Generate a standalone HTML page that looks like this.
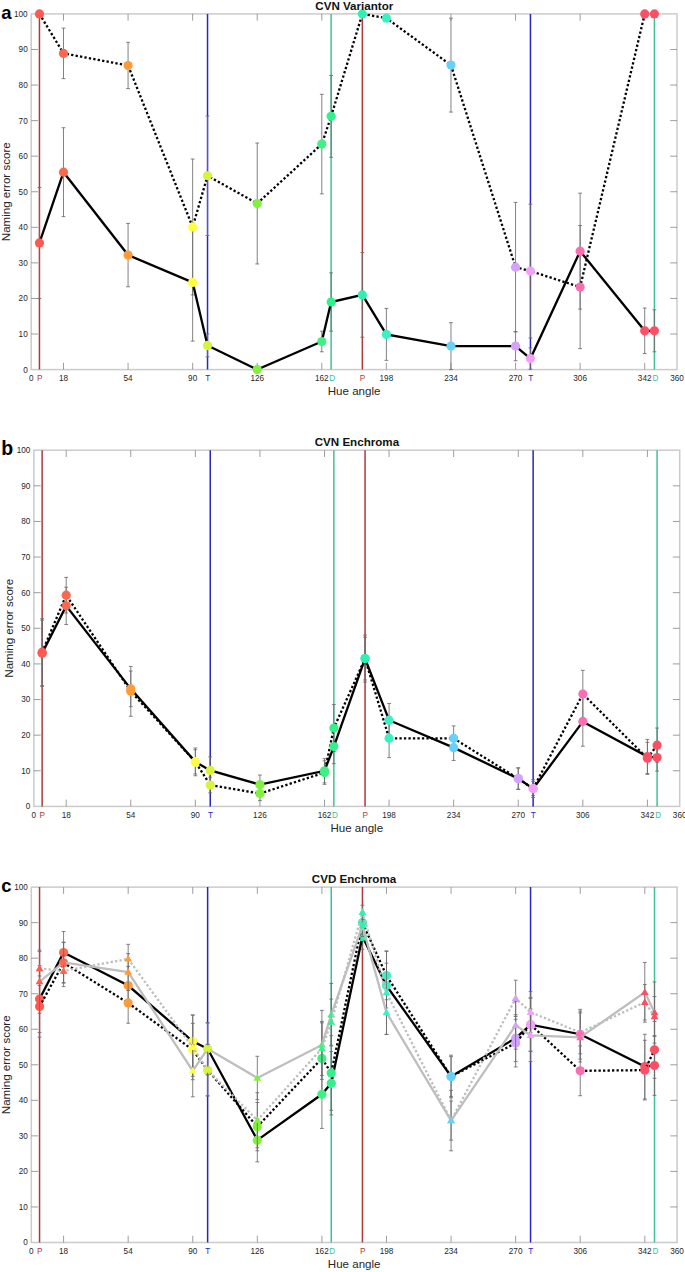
<!DOCTYPE html>
<html><head><meta charset="utf-8"><title>chart</title>
<style>html,body{margin:0;padding:0;background:#fff}body{width:685px;height:1272px;position:relative;overflow:hidden;font-family:"Liberation Sans",sans-serif}</style></head>
<body>
<svg width="685" height="1272" viewBox="0 0 685 1272" style="position:absolute;left:0;top:0;font-family:'Liberation Sans',sans-serif">
<g>
<rect x="31.2" y="13.9" width="645.8" height="355.7" fill="none" stroke="#cbcbcb" stroke-width="1.5"/>
<path d="M63.49 369.6v-6.8M63.49 13.9v6.8M128.07 369.6v-6.8M128.07 13.9v6.8M192.65 369.6v-6.8M192.65 13.9v6.8M257.23 369.6v-6.8M257.23 13.9v6.8M321.81 369.6v-6.8M321.81 13.9v6.8M386.39 369.6v-6.8M386.39 13.9v6.8M450.97 369.6v-6.8M450.97 13.9v6.8M515.55 369.6v-6.8M515.55 13.9v6.8M580.13 369.6v-6.8M580.13 13.9v6.8M644.71 369.6v-6.8M644.71 13.9v6.8M31.2 334.03h6.8M677 334.03h-6.8M31.2 298.46h6.8M677 298.46h-6.8M31.2 262.89h6.8M677 262.89h-6.8M31.2 227.32h6.8M677 227.32h-6.8M31.2 191.75h6.8M677 191.75h-6.8M31.2 156.18h6.8M677 156.18h-6.8M31.2 120.61h6.8M677 120.61h-6.8M31.2 85.04h6.8M677 85.04h-6.8M31.2 49.47h6.8M677 49.47h-6.8" stroke="#858585" stroke-width="0.8" fill="none"/>
<text x="31.2" y="380.8" font-size="8.2" text-anchor="middle" fill="#1f1f1f">0</text>
<text x="63.49" y="380.8" font-size="8.2" text-anchor="middle" fill="#1f1f1f">18</text>
<text x="128.07" y="380.8" font-size="8.2" text-anchor="middle" fill="#1f1f1f">54</text>
<text x="192.65" y="380.8" font-size="8.2" text-anchor="middle" fill="#1f1f1f">90</text>
<text x="257.23" y="380.8" font-size="8.2" text-anchor="middle" fill="#1f1f1f">126</text>
<text x="321.81" y="380.8" font-size="8.2" text-anchor="middle" fill="#1f1f1f">162</text>
<text x="386.39" y="380.8" font-size="8.2" text-anchor="middle" fill="#1f1f1f">198</text>
<text x="450.97" y="380.8" font-size="8.2" text-anchor="middle" fill="#1f1f1f">234</text>
<text x="515.55" y="380.8" font-size="8.2" text-anchor="middle" fill="#1f1f1f">270</text>
<text x="580.13" y="380.8" font-size="8.2" text-anchor="middle" fill="#1f1f1f">306</text>
<text x="644.71" y="380.8" font-size="8.2" text-anchor="middle" fill="#1f1f1f">342</text>
<text x="677" y="380.8" font-size="8.2" text-anchor="middle" fill="#1f1f1f">360</text>
<text x="27.7" y="372.5" font-size="8.2" text-anchor="end" fill="#1f1f1f">0</text>
<text x="27.7" y="336.93" font-size="8.2" text-anchor="end" fill="#1f1f1f">10</text>
<text x="27.7" y="301.36" font-size="8.2" text-anchor="end" fill="#1f1f1f">20</text>
<text x="27.7" y="265.79" font-size="8.2" text-anchor="end" fill="#1f1f1f">30</text>
<text x="27.7" y="230.22" font-size="8.2" text-anchor="end" fill="#1f1f1f">40</text>
<text x="27.7" y="194.65" font-size="8.2" text-anchor="end" fill="#1f1f1f">50</text>
<text x="27.7" y="159.08" font-size="8.2" text-anchor="end" fill="#1f1f1f">60</text>
<text x="27.7" y="123.51" font-size="8.2" text-anchor="end" fill="#1f1f1f">70</text>
<text x="27.7" y="87.94" font-size="8.2" text-anchor="end" fill="#1f1f1f">80</text>
<text x="27.7" y="52.37" font-size="8.2" text-anchor="end" fill="#1f1f1f">90</text>
<text x="27.7" y="16.8" font-size="8.2" text-anchor="end" fill="#1f1f1f">100</text>
<line x1="39.45" y1="13.9" x2="39.45" y2="369.6" stroke="#ad3a3a" stroke-width="1.5"/>
<text x="39.65" y="380.8" font-size="8.2" text-anchor="middle" fill="#ad3a3a">P</text>
<line x1="207.54" y1="13.9" x2="207.54" y2="369.6" stroke="#2626c4" stroke-width="1.5"/>
<text x="207.74" y="380.8" font-size="8.2" text-anchor="middle" fill="#2626c4">T</text>
<line x1="331.14" y1="13.9" x2="331.14" y2="369.6" stroke="#3cc493" stroke-width="1.5"/>
<text x="332.14" y="380.8" font-size="8.2" text-anchor="middle" fill="#3cc493">D</text>
<line x1="362.35" y1="13.9" x2="362.35" y2="369.6" stroke="#ad3a3a" stroke-width="1.5"/>
<text x="362.55" y="380.8" font-size="8.2" text-anchor="middle" fill="#ad3a3a">P</text>
<line x1="530.44" y1="13.9" x2="530.44" y2="369.6" stroke="#2626c4" stroke-width="1.5"/>
<text x="530.64" y="380.8" font-size="8.2" text-anchor="middle" fill="#2626c4">T</text>
<line x1="654.4" y1="13.9" x2="654.4" y2="369.6" stroke="#3cc493" stroke-width="1.5"/>
<text x="655.4" y="380.8" font-size="8.2" text-anchor="middle" fill="#3cc493">D</text>
<path d="M63.49 28.13V78.64M61.59 28.13h3.8M61.59 78.64h3.8M128.07 42.36V88.6M126.17 42.36h3.8M126.17 88.6h3.8M192.65 159.03V294.9M190.75 159.03h3.8M190.75 294.9h3.8M207.54 115.99V235.5M205.64 115.99h3.8M205.64 235.5h3.8M257.23 143.02V263.96M255.33 143.02h3.8M255.33 263.96h3.8M321.81 94.29V193.88M319.91 94.29h3.8M319.91 193.88h3.8M331.14 75.44V157.25M329.24 75.44h3.8M329.24 157.25h3.8M450.97 18.17V112.07M449.07 18.17h3.8M449.07 112.07h3.8M515.55 202.42V331.9M513.65 202.42h3.8M513.65 331.9h3.8M530.44 204.2V337.94M528.54 204.2h3.8M528.54 337.94h3.8M580.13 225.54V348.61M578.23 225.54h3.8M578.23 348.61h3.8M39.45 187.48V298.46M37.55 187.48h3.8M37.55 298.46h3.8M63.49 127.72V216.65M61.59 127.72h3.8M61.59 216.65h3.8M128.07 223.41V286.72M126.17 223.41h3.8M126.17 286.72h3.8M192.65 223.76V341.14M190.75 223.76h3.8M190.75 341.14h3.8M207.54 334.03V356.79M205.64 334.03h3.8M205.64 356.79h3.8M257.23 366.04V369.6M255.33 366.04h3.8M321.81 331.18V351.81M319.91 331.18h3.8M319.91 351.81h3.8M331.14 272.85V331.18M329.24 272.85h3.8M329.24 331.18h3.8M362.35 252.57V337.23M360.45 252.57h3.8M360.45 337.23h3.8M386.39 308.42V360.35M384.49 308.42h3.8M384.49 360.35h3.8M450.97 322.65V369.6M449.07 322.65h3.8M449.07 369.6h3.8M515.55 331.54V360.71M513.65 331.54h3.8M513.65 360.71h3.8M530.44 347.9V369.24M528.54 347.9h3.8M528.54 369.24h3.8M580.13 193.17V309.13M578.23 193.17h3.8M578.23 309.13h3.8M644.71 308.06V353.59M642.81 308.06h3.8M642.81 353.59h3.8M654.4 309.84V351.81M652.5 309.84h3.8M652.5 351.81h3.8" stroke="#6c6c6c" stroke-width="0.85" fill="none"/>
<polyline points="39.45,13.9 63.49,53.38 128.07,65.48 192.65,226.96 207.54,175.74 257.23,203.49 321.81,144.09 331.14,116.34 362.35,13.9 386.39,18.17 450.97,65.12 515.55,267.16 530.44,271.07 580.13,287.08 644.71,13.9 654.4,13.9" fill="none" stroke="#000" stroke-width="2.3" stroke-linejoin="miter" stroke-dasharray="2.3 2.2"/>
<polyline points="39.45,242.97 63.49,172.19 128.07,255.06 192.65,282.45 207.54,345.41 257.23,369.6 321.81,341.5 331.14,302.02 362.35,294.9 386.39,334.39 450.97,346.12 515.55,346.12 530.44,358.57 580.13,251.15 644.71,330.83 654.4,330.83" fill="none" stroke="#000" stroke-width="2.3" stroke-linejoin="miter"/>
<circle cx="39.45" cy="13.9" r="4.6" fill="#ff5a52"/>
<circle cx="63.49" cy="53.38" r="4.6" fill="#f9684f"/>
<circle cx="128.07" cy="65.48" r="4.6" fill="#ff9a38"/>
<circle cx="192.65" cy="226.96" r="4.6" fill="#ffff42"/>
<circle cx="207.54" cy="175.74" r="4.6" fill="#d8f23e"/>
<circle cx="257.23" cy="203.49" r="4.6" fill="#82f040"/>
<circle cx="321.81" cy="144.09" r="4.6" fill="#3ff083"/>
<circle cx="331.14" cy="116.34" r="4.6" fill="#33ef8c"/>
<circle cx="362.35" cy="13.9" r="4.6" fill="#2ff0b2"/>
<circle cx="386.39" cy="18.17" r="4.6" fill="#3cf0c4"/>
<circle cx="450.97" cy="65.12" r="4.6" fill="#66d2fb"/>
<circle cx="515.55" cy="267.16" r="4.6" fill="#d3a2fb"/>
<circle cx="530.44" cy="271.07" r="4.6" fill="#f4a0fb"/>
<circle cx="580.13" cy="287.08" r="4.6" fill="#fb6fb2"/>
<circle cx="644.71" cy="13.9" r="4.6" fill="#fb5068"/>
<circle cx="654.4" cy="13.9" r="4.6" fill="#fb5064"/>
<circle cx="39.45" cy="242.97" r="4.6" fill="#ff5a52"/>
<circle cx="63.49" cy="172.19" r="4.6" fill="#f9684f"/>
<circle cx="128.07" cy="255.06" r="4.6" fill="#ff9a38"/>
<circle cx="192.65" cy="282.45" r="4.6" fill="#ffff42"/>
<circle cx="207.54" cy="345.41" r="4.6" fill="#d8f23e"/>
<circle cx="257.23" cy="369.6" r="4.6" fill="#82f040"/>
<circle cx="321.81" cy="341.5" r="4.6" fill="#3ff083"/>
<circle cx="331.14" cy="302.02" r="4.6" fill="#33ef8c"/>
<circle cx="362.35" cy="294.9" r="4.6" fill="#2ff0b2"/>
<circle cx="386.39" cy="334.39" r="4.6" fill="#3cf0c4"/>
<circle cx="450.97" cy="346.12" r="4.6" fill="#66d2fb"/>
<circle cx="515.55" cy="346.12" r="4.6" fill="#d3a2fb"/>
<circle cx="530.44" cy="358.57" r="4.6" fill="#f4a0fb"/>
<circle cx="580.13" cy="251.15" r="4.6" fill="#fb6fb2"/>
<circle cx="644.71" cy="330.83" r="4.6" fill="#fb5068"/>
<circle cx="654.4" cy="330.83" r="4.6" fill="#fb5064"/>
<text x="354.3" y="9.6" font-size="11.6" font-weight="bold" text-anchor="middle" fill="#111">CVN Variantor</text>
<text x="354.1" y="395" font-size="11.55" text-anchor="middle" fill="#262626">Hue angle</text>
<text transform="translate(10.2 191.75) rotate(-90)" font-size="11.55" text-anchor="middle" fill="#262626">Naming error score</text>
<text x="1.3" y="18.8" font-size="18.5" font-weight="bold" fill="#000">a</text>
</g>
<g>
<rect x="33.9" y="450.2" width="645.8" height="356.2" fill="none" stroke="#cbcbcb" stroke-width="1.5"/>
<path d="M66.19 806.4v-6.8M66.19 450.2v6.8M130.77 806.4v-6.8M130.77 450.2v6.8M195.35 806.4v-6.8M195.35 450.2v6.8M259.93 806.4v-6.8M259.93 450.2v6.8M324.51 806.4v-6.8M324.51 450.2v6.8M389.09 806.4v-6.8M389.09 450.2v6.8M453.67 806.4v-6.8M453.67 450.2v6.8M518.25 806.4v-6.8M518.25 450.2v6.8M582.83 806.4v-6.8M582.83 450.2v6.8M647.41 806.4v-6.8M647.41 450.2v6.8M33.9 770.78h6.8M679.7 770.78h-6.8M33.9 735.16h6.8M679.7 735.16h-6.8M33.9 699.54h6.8M679.7 699.54h-6.8M33.9 663.92h6.8M679.7 663.92h-6.8M33.9 628.3h6.8M679.7 628.3h-6.8M33.9 592.68h6.8M679.7 592.68h-6.8M33.9 557.06h6.8M679.7 557.06h-6.8M33.9 521.44h6.8M679.7 521.44h-6.8M33.9 485.82h6.8M679.7 485.82h-6.8" stroke="#858585" stroke-width="0.8" fill="none"/>
<text x="33.9" y="817.6" font-size="8.2" text-anchor="middle" fill="#1f1f1f">0</text>
<text x="66.19" y="817.6" font-size="8.2" text-anchor="middle" fill="#1f1f1f">18</text>
<text x="130.77" y="817.6" font-size="8.2" text-anchor="middle" fill="#1f1f1f">54</text>
<text x="195.35" y="817.6" font-size="8.2" text-anchor="middle" fill="#1f1f1f">90</text>
<text x="259.93" y="817.6" font-size="8.2" text-anchor="middle" fill="#1f1f1f">126</text>
<text x="324.51" y="817.6" font-size="8.2" text-anchor="middle" fill="#1f1f1f">162</text>
<text x="389.09" y="817.6" font-size="8.2" text-anchor="middle" fill="#1f1f1f">198</text>
<text x="453.67" y="817.6" font-size="8.2" text-anchor="middle" fill="#1f1f1f">234</text>
<text x="518.25" y="817.6" font-size="8.2" text-anchor="middle" fill="#1f1f1f">270</text>
<text x="582.83" y="817.6" font-size="8.2" text-anchor="middle" fill="#1f1f1f">306</text>
<text x="647.41" y="817.6" font-size="8.2" text-anchor="middle" fill="#1f1f1f">342</text>
<text x="679.7" y="817.6" font-size="8.2" text-anchor="middle" fill="#1f1f1f">360</text>
<text x="30.4" y="809.3" font-size="8.2" text-anchor="end" fill="#1f1f1f">0</text>
<text x="30.4" y="773.68" font-size="8.2" text-anchor="end" fill="#1f1f1f">10</text>
<text x="30.4" y="738.06" font-size="8.2" text-anchor="end" fill="#1f1f1f">20</text>
<text x="30.4" y="702.44" font-size="8.2" text-anchor="end" fill="#1f1f1f">30</text>
<text x="30.4" y="666.82" font-size="8.2" text-anchor="end" fill="#1f1f1f">40</text>
<text x="30.4" y="631.2" font-size="8.2" text-anchor="end" fill="#1f1f1f">50</text>
<text x="30.4" y="595.58" font-size="8.2" text-anchor="end" fill="#1f1f1f">60</text>
<text x="30.4" y="559.96" font-size="8.2" text-anchor="end" fill="#1f1f1f">70</text>
<text x="30.4" y="524.34" font-size="8.2" text-anchor="end" fill="#1f1f1f">80</text>
<text x="30.4" y="488.72" font-size="8.2" text-anchor="end" fill="#1f1f1f">90</text>
<text x="30.4" y="453.1" font-size="8.2" text-anchor="end" fill="#1f1f1f">100</text>
<line x1="42.15" y1="450.2" x2="42.15" y2="806.4" stroke="#ad3a3a" stroke-width="1.5"/>
<text x="42.35" y="817.6" font-size="8.2" text-anchor="middle" fill="#ad3a3a">P</text>
<line x1="210.24" y1="450.2" x2="210.24" y2="806.4" stroke="#2626c4" stroke-width="1.5"/>
<text x="210.44" y="817.6" font-size="8.2" text-anchor="middle" fill="#2626c4">T</text>
<line x1="333.84" y1="450.2" x2="333.84" y2="806.4" stroke="#3cc493" stroke-width="1.5"/>
<text x="334.84" y="817.6" font-size="8.2" text-anchor="middle" fill="#3cc493">D</text>
<line x1="365.05" y1="450.2" x2="365.05" y2="806.4" stroke="#ad3a3a" stroke-width="1.5"/>
<text x="365.25" y="817.6" font-size="8.2" text-anchor="middle" fill="#ad3a3a">P</text>
<line x1="533.14" y1="450.2" x2="533.14" y2="806.4" stroke="#2626c4" stroke-width="1.5"/>
<text x="533.34" y="817.6" font-size="8.2" text-anchor="middle" fill="#2626c4">T</text>
<line x1="657.1" y1="450.2" x2="657.1" y2="806.4" stroke="#3cc493" stroke-width="1.5"/>
<text x="658.1" y="817.6" font-size="8.2" text-anchor="middle" fill="#3cc493">D</text>
<path d="M42.15 618.68V685.65M40.25 618.68h3.8M40.25 685.65h3.8M66.19 577.36V612.98M64.29 577.36h3.8M64.29 612.98h3.8M130.77 666.41V716.28M128.87 666.41h3.8M128.87 716.28h3.8M195.35 747.98V775.77M193.45 747.98h3.8M193.45 775.77h3.8M210.24 777.19V792.86M208.34 777.19h3.8M208.34 792.86h3.8M259.93 786.45V800.7M258.03 786.45h3.8M258.03 800.7h3.8M324.51 760.81V784.32M322.61 760.81h3.8M322.61 784.32h3.8M333.84 704.53V751.55M331.94 704.53h3.8M331.94 751.55h3.8M365.05 637.2V679.95M363.15 637.2h3.8M363.15 679.95h3.8M389.09 719.13V757.6M387.19 719.13h3.8M387.19 757.6h3.8M453.67 725.9V750.83M451.77 725.9h3.8M451.77 750.83h3.8M518.25 767.93V789.3M516.35 767.93h3.8M516.35 789.3h3.8M533.14 781.47V795.71M531.24 781.47h3.8M531.24 795.71h3.8M582.83 670.33V717.71M580.93 670.33h3.8M580.93 717.71h3.8M647.41 742.28V774.34M645.51 742.28h3.8M645.51 774.34h3.8M657.1 728.04V762.23M655.2 728.04h3.8M655.2 762.23h3.8M42.15 620.11V686.36M40.25 620.11h3.8M40.25 686.36h3.8M66.19 587.16V624.56M64.29 587.16h3.8M64.29 624.56h3.8M130.77 671.04V706.66M128.87 671.04h3.8M128.87 706.66h3.8M195.35 749.76V773.99M193.45 749.76h3.8M193.45 773.99h3.8M210.24 756.89V783.96M208.34 756.89h3.8M208.34 783.96h3.8M259.93 775.05V794.29M258.03 775.05h3.8M258.03 794.29h3.8M324.51 758.67V782.89M322.61 758.67h3.8M322.61 782.89h3.8M333.84 729.46V763.66M331.94 729.46h3.8M331.94 763.66h3.8M365.05 635.07V682.09M363.15 635.07h3.8M363.15 682.09h3.8M389.09 703.46V736.94M387.19 703.46h3.8M387.19 736.94h3.8M453.67 734.8V760.45M451.77 734.8h3.8M451.77 760.45h3.8M518.25 767.93V789.3M516.35 767.93h3.8M516.35 789.3h3.8M533.14 779.68V797.5M531.24 779.68h3.8M531.24 797.5h3.8M582.83 697.05V746.2M580.93 697.05h3.8M580.93 746.2h3.8M647.41 739.43V773.63M645.51 739.43h3.8M645.51 773.63h3.8M657.1 744.06V771.14M655.2 744.06h3.8M655.2 771.14h3.8" stroke="#6c6c6c" stroke-width="0.85" fill="none"/>
<polyline points="42.15,652.17 66.19,595.17 130.77,691.35 195.35,761.88 210.24,785.03 259.93,793.58 324.51,772.56 333.84,728.04 365.05,658.58 389.09,738.37 453.67,738.37 518.25,778.62 533.14,788.59 582.83,694.02 647.41,758.31 657.1,745.13" fill="none" stroke="#000" stroke-width="2.3" stroke-linejoin="miter" stroke-dasharray="2.3 2.2"/>
<polyline points="42.15,653.23 66.19,605.86 130.77,688.85 195.35,761.88 210.24,770.42 259.93,784.67 324.51,770.78 333.84,746.56 365.05,658.58 389.09,720.2 453.67,747.63 518.25,778.62 533.14,788.59 582.83,721.62 647.41,756.53 657.1,757.6" fill="none" stroke="#000" stroke-width="2.3" stroke-linejoin="miter"/>
<circle cx="42.15" cy="652.17" r="4.6" fill="#ff5a52"/>
<circle cx="66.19" cy="595.17" r="4.6" fill="#f9684f"/>
<circle cx="130.77" cy="691.35" r="4.6" fill="#ff9a38"/>
<circle cx="195.35" cy="761.88" r="4.6" fill="#ffff42"/>
<circle cx="210.24" cy="785.03" r="4.6" fill="#d8f23e"/>
<circle cx="259.93" cy="793.58" r="4.6" fill="#82f040"/>
<circle cx="324.51" cy="772.56" r="4.6" fill="#3ff083"/>
<circle cx="333.84" cy="728.04" r="4.6" fill="#33ef8c"/>
<circle cx="365.05" cy="658.58" r="4.6" fill="#2ff0b2"/>
<circle cx="389.09" cy="738.37" r="4.6" fill="#3cf0c4"/>
<circle cx="453.67" cy="738.37" r="4.6" fill="#66d2fb"/>
<circle cx="518.25" cy="778.62" r="4.6" fill="#d3a2fb"/>
<circle cx="533.14" cy="788.59" r="4.6" fill="#f4a0fb"/>
<circle cx="582.83" cy="694.02" r="4.6" fill="#fb6fb2"/>
<circle cx="647.41" cy="758.31" r="4.6" fill="#fb5068"/>
<circle cx="657.1" cy="745.13" r="4.6" fill="#fb5064"/>
<circle cx="42.15" cy="653.23" r="4.6" fill="#ff5a52"/>
<circle cx="66.19" cy="605.86" r="4.6" fill="#f9684f"/>
<circle cx="130.77" cy="688.85" r="4.6" fill="#ff9a38"/>
<circle cx="195.35" cy="761.88" r="4.6" fill="#ffff42"/>
<circle cx="210.24" cy="770.42" r="4.6" fill="#d8f23e"/>
<circle cx="259.93" cy="784.67" r="4.6" fill="#82f040"/>
<circle cx="324.51" cy="770.78" r="4.6" fill="#3ff083"/>
<circle cx="333.84" cy="746.56" r="4.6" fill="#33ef8c"/>
<circle cx="365.05" cy="658.58" r="4.6" fill="#2ff0b2"/>
<circle cx="389.09" cy="720.2" r="4.6" fill="#3cf0c4"/>
<circle cx="453.67" cy="747.63" r="4.6" fill="#66d2fb"/>
<circle cx="518.25" cy="778.62" r="4.6" fill="#d3a2fb"/>
<circle cx="533.14" cy="788.59" r="4.6" fill="#f4a0fb"/>
<circle cx="582.83" cy="721.62" r="4.6" fill="#fb6fb2"/>
<circle cx="647.41" cy="756.53" r="4.6" fill="#fb5068"/>
<circle cx="657.1" cy="757.6" r="4.6" fill="#fb5064"/>
<text x="356.9" y="445.9" font-size="11.6" font-weight="bold" text-anchor="middle" fill="#111">CVN Enchroma</text>
<text x="356.8" y="831.8" font-size="11.55" text-anchor="middle" fill="#262626">Hue angle</text>
<text transform="translate(12.9 628.3) rotate(-90)" font-size="11.55" text-anchor="middle" fill="#262626">Naming error score</text>
<text x="1.3" y="455.1" font-size="19.5" font-weight="bold" fill="#000">b</text>
</g>
<g>
<rect x="31.3" y="887.1" width="645.8" height="355.4" fill="none" stroke="#cbcbcb" stroke-width="1.5"/>
<path d="M63.59 1242.5v-6.8M63.59 887.1v6.8M128.17 1242.5v-6.8M128.17 887.1v6.8M192.75 1242.5v-6.8M192.75 887.1v6.8M257.33 1242.5v-6.8M257.33 887.1v6.8M321.91 1242.5v-6.8M321.91 887.1v6.8M386.49 1242.5v-6.8M386.49 887.1v6.8M451.07 1242.5v-6.8M451.07 887.1v6.8M515.65 1242.5v-6.8M515.65 887.1v6.8M580.23 1242.5v-6.8M580.23 887.1v6.8M644.81 1242.5v-6.8M644.81 887.1v6.8M31.3 1206.96h6.8M677.1 1206.96h-6.8M31.3 1171.42h6.8M677.1 1171.42h-6.8M31.3 1135.88h6.8M677.1 1135.88h-6.8M31.3 1100.34h6.8M677.1 1100.34h-6.8M31.3 1064.8h6.8M677.1 1064.8h-6.8M31.3 1029.26h6.8M677.1 1029.26h-6.8M31.3 993.72h6.8M677.1 993.72h-6.8M31.3 958.18h6.8M677.1 958.18h-6.8M31.3 922.64h6.8M677.1 922.64h-6.8" stroke="#858585" stroke-width="0.8" fill="none"/>
<text x="31.3" y="1253.7" font-size="8.2" text-anchor="middle" fill="#1f1f1f">0</text>
<text x="63.59" y="1253.7" font-size="8.2" text-anchor="middle" fill="#1f1f1f">18</text>
<text x="128.17" y="1253.7" font-size="8.2" text-anchor="middle" fill="#1f1f1f">54</text>
<text x="192.75" y="1253.7" font-size="8.2" text-anchor="middle" fill="#1f1f1f">90</text>
<text x="257.33" y="1253.7" font-size="8.2" text-anchor="middle" fill="#1f1f1f">126</text>
<text x="321.91" y="1253.7" font-size="8.2" text-anchor="middle" fill="#1f1f1f">162</text>
<text x="386.49" y="1253.7" font-size="8.2" text-anchor="middle" fill="#1f1f1f">198</text>
<text x="451.07" y="1253.7" font-size="8.2" text-anchor="middle" fill="#1f1f1f">234</text>
<text x="515.65" y="1253.7" font-size="8.2" text-anchor="middle" fill="#1f1f1f">270</text>
<text x="580.23" y="1253.7" font-size="8.2" text-anchor="middle" fill="#1f1f1f">306</text>
<text x="644.81" y="1253.7" font-size="8.2" text-anchor="middle" fill="#1f1f1f">342</text>
<text x="677.1" y="1253.7" font-size="8.2" text-anchor="middle" fill="#1f1f1f">360</text>
<text x="27.8" y="1245.4" font-size="8.2" text-anchor="end" fill="#1f1f1f">0</text>
<text x="27.8" y="1209.86" font-size="8.2" text-anchor="end" fill="#1f1f1f">10</text>
<text x="27.8" y="1174.32" font-size="8.2" text-anchor="end" fill="#1f1f1f">20</text>
<text x="27.8" y="1138.78" font-size="8.2" text-anchor="end" fill="#1f1f1f">30</text>
<text x="27.8" y="1103.24" font-size="8.2" text-anchor="end" fill="#1f1f1f">40</text>
<text x="27.8" y="1067.7" font-size="8.2" text-anchor="end" fill="#1f1f1f">50</text>
<text x="27.8" y="1032.16" font-size="8.2" text-anchor="end" fill="#1f1f1f">60</text>
<text x="27.8" y="996.62" font-size="8.2" text-anchor="end" fill="#1f1f1f">70</text>
<text x="27.8" y="961.08" font-size="8.2" text-anchor="end" fill="#1f1f1f">80</text>
<text x="27.8" y="925.54" font-size="8.2" text-anchor="end" fill="#1f1f1f">90</text>
<text x="27.8" y="890" font-size="8.2" text-anchor="end" fill="#1f1f1f">100</text>
<line x1="39.55" y1="887.1" x2="39.55" y2="1242.5" stroke="#ad3a3a" stroke-width="1.5"/>
<text x="39.75" y="1253.7" font-size="8.2" text-anchor="middle" fill="#ad3a3a">P</text>
<line x1="207.64" y1="887.1" x2="207.64" y2="1242.5" stroke="#2626c4" stroke-width="1.5"/>
<text x="207.84" y="1253.7" font-size="8.2" text-anchor="middle" fill="#2626c4">T</text>
<line x1="331.24" y1="887.1" x2="331.24" y2="1242.5" stroke="#3cc493" stroke-width="1.5"/>
<text x="332.24" y="1253.7" font-size="8.2" text-anchor="middle" fill="#3cc493">D</text>
<line x1="362.45" y1="887.1" x2="362.45" y2="1242.5" stroke="#ad3a3a" stroke-width="1.5"/>
<text x="362.65" y="1253.7" font-size="8.2" text-anchor="middle" fill="#ad3a3a">P</text>
<line x1="530.54" y1="887.1" x2="530.54" y2="1242.5" stroke="#2626c4" stroke-width="1.5"/>
<text x="530.74" y="1253.7" font-size="8.2" text-anchor="middle" fill="#2626c4">T</text>
<line x1="654.5" y1="887.1" x2="654.5" y2="1242.5" stroke="#3cc493" stroke-width="1.5"/>
<text x="655.5" y="1253.7" font-size="8.2" text-anchor="middle" fill="#3cc493">D</text>
<path d="M39.55 965.64V1032.46M37.65 965.64h3.8M37.65 1032.46h3.8M63.59 931.53V973.46M61.69 931.53h3.8M61.69 973.46h3.8M128.17 966.35V1004.74M126.27 966.35h3.8M126.27 1004.74h3.8M192.75 1015.04V1067.64M190.85 1015.04h3.8M190.85 1067.64h3.8M207.64 1022.86V1074.75M205.74 1022.86h3.8M205.74 1074.75h3.8M257.33 1118.47V1161.82M255.43 1118.47h3.8M255.43 1161.82h3.8M321.91 1060.18V1128.42M320.01 1060.18h3.8M320.01 1128.42h3.8M331.24 1051.65V1114.91M329.34 1051.65h3.8M329.34 1114.91h3.8M362.45 923.71V949.3M360.55 923.71h3.8M360.55 949.3h3.8M386.49 963.16V1007.94M384.59 963.16h3.8M384.59 1007.94h3.8M451.07 1055.2V1097.85M449.17 1055.2h3.8M449.17 1097.85h3.8M515.65 1014.69V1061.6M513.75 1014.69h3.8M513.75 1061.6h3.8M530.54 997.98V1051.29M528.64 997.98h3.8M528.64 1051.29h3.8M580.23 1009.36V1059.11M578.33 1009.36h3.8M578.33 1059.11h3.8M644.81 1034.24V1098.92M642.91 1034.24h3.8M642.91 1098.92h3.8M654.5 1035.66V1095.36M652.6 1035.66h3.8M652.6 1095.36h3.8M39.55 975.95V1037.08M37.65 975.95h3.8M37.65 1037.08h3.8M63.59 942.54V983.06M61.69 942.54h3.8M61.69 983.06h3.8M128.17 982.7V1023.22M126.27 982.7h3.8M126.27 1023.22h3.8M192.75 1023.4V1076.35M190.85 1023.4h3.8M190.85 1076.35h3.8M207.64 1044.36V1095.9M205.74 1044.36h3.8M205.74 1095.9h3.8M257.33 1102.47V1150.81M255.43 1102.47h3.8M255.43 1150.81h3.8M321.91 1022.86V1093.94M320.01 1022.86h3.8M320.01 1093.94h3.8M331.24 1035.66V1110.29M329.34 1035.66h3.8M329.34 1110.29h3.8M362.45 911.98V933.3M360.55 911.98h3.8M360.55 933.3h3.8M386.49 951.43V999.76M384.59 951.43h3.8M384.59 999.76h3.8M451.07 1056.63V1096.43M449.17 1056.63h3.8M449.17 1096.43h3.8M515.65 1019.31V1066.93M513.75 1019.31h3.8M513.75 1066.93h3.8M530.54 997.98V1051.29M528.64 997.98h3.8M528.64 1051.29h3.8M580.23 1045.96V1095.72M578.33 1045.96h3.8M578.33 1095.72h3.8M644.81 1040.28V1099.98M642.91 1040.28h3.8M642.91 1099.98h3.8M654.5 1021.44V1078.31M652.6 1021.44h3.8M652.6 1078.31h3.8" stroke="#6c6c6c" stroke-width="0.85" fill="none"/>
<polyline points="39.55,999.05 63.59,952.49 128.17,985.55 192.75,1041.34 207.64,1048.81 257.33,1140.14 321.91,1094.3 331.24,1083.28 362.45,936.5 386.49,985.55 451.07,1076.53 515.65,1038.14 530.54,1024.64 580.23,1034.24 644.81,1066.58 654.5,1065.51" fill="none" stroke="#000" stroke-width="2.3" stroke-linejoin="miter"/>
<circle cx="39.55" cy="999.05" r="4.6" fill="#ff5a52"/>
<circle cx="63.59" cy="952.49" r="4.6" fill="#f9684f"/>
<circle cx="128.17" cy="985.55" r="4.6" fill="#ff9a38"/>
<circle cx="192.75" cy="1041.34" r="4.6" fill="#ffff42"/>
<circle cx="207.64" cy="1048.81" r="4.6" fill="#d8f23e"/>
<circle cx="257.33" cy="1140.14" r="4.6" fill="#82f040"/>
<circle cx="321.91" cy="1094.3" r="4.6" fill="#3ff083"/>
<circle cx="331.24" cy="1083.28" r="4.6" fill="#33ef8c"/>
<circle cx="362.45" cy="936.5" r="4.6" fill="#2ff0b2"/>
<circle cx="386.49" cy="985.55" r="4.6" fill="#3cf0c4"/>
<circle cx="451.07" cy="1076.53" r="4.6" fill="#66d2fb"/>
<circle cx="515.65" cy="1038.14" r="4.6" fill="#d3a2fb"/>
<circle cx="530.54" cy="1024.64" r="4.6" fill="#f4a0fb"/>
<circle cx="580.23" cy="1034.24" r="4.6" fill="#fb6fb2"/>
<circle cx="644.81" cy="1066.58" r="4.6" fill="#fb5068"/>
<circle cx="654.5" cy="1065.51" r="4.6" fill="#fb5064"/>
<polyline points="39.55,1006.51 63.59,962.8 128.17,1002.96 192.75,1049.87 207.64,1070.13 257.33,1126.64 321.91,1058.4 331.24,1072.97 362.45,922.64 386.49,975.59 451.07,1076.53 515.65,1043.12 530.54,1024.64 580.23,1070.84 644.81,1070.13 654.5,1049.87" fill="none" stroke="#000" stroke-width="2.3" stroke-linejoin="miter" stroke-dasharray="2.3 2.2"/>
<circle cx="39.55" cy="1006.51" r="4.6" fill="#ff5a52"/>
<circle cx="63.59" cy="962.8" r="4.6" fill="#f9684f"/>
<circle cx="128.17" cy="1002.96" r="4.6" fill="#ff9a38"/>
<circle cx="192.75" cy="1049.87" r="4.6" fill="#ffff42"/>
<circle cx="207.64" cy="1070.13" r="4.6" fill="#d8f23e"/>
<circle cx="257.33" cy="1126.64" r="4.6" fill="#82f040"/>
<circle cx="321.91" cy="1058.4" r="4.6" fill="#3ff083"/>
<circle cx="331.24" cy="1072.97" r="4.6" fill="#33ef8c"/>
<circle cx="362.45" cy="922.64" r="4.6" fill="#2ff0b2"/>
<circle cx="386.49" cy="975.59" r="4.6" fill="#3cf0c4"/>
<circle cx="451.07" cy="1076.53" r="4.6" fill="#66d2fb"/>
<circle cx="515.65" cy="1043.12" r="4.6" fill="#d3a2fb"/>
<circle cx="530.54" cy="1024.64" r="4.6" fill="#f4a0fb"/>
<circle cx="580.23" cy="1070.84" r="4.6" fill="#fb6fb2"/>
<circle cx="644.81" cy="1070.13" r="4.6" fill="#fb5068"/>
<circle cx="654.5" cy="1049.87" r="4.6" fill="#fb5064"/>
<path d="M39.55 950.01V1013.27M37.65 950.01h3.8M37.65 1013.27h3.8M63.59 942.19V982.7M61.69 942.19h3.8M61.69 982.7h3.8M128.17 953.56V990.52M126.27 953.56h3.8M126.27 990.52h3.8M192.75 1044.9V1096.79M190.85 1044.9h3.8M190.85 1096.79h3.8M207.64 1022.86V1074.75M205.74 1022.86h3.8M205.74 1074.75h3.8M257.33 1056.27V1099.63M255.43 1056.27h3.8M255.43 1099.63h3.8M321.91 1010.42V1079.37M320.01 1010.42h3.8M320.01 1079.37h3.8M331.24 983.41V1045.96M329.34 983.41h3.8M329.34 1045.96h3.8M362.45 915.18V936.5M360.55 915.18h3.8M360.55 936.5h3.8M386.49 990.7V1034.41M384.59 990.7h3.8M384.59 1034.41h3.8M451.07 1090.39V1150.81M449.17 1090.39h3.8M449.17 1150.81h3.8M515.65 1001.54V1049.16M513.75 1001.54h3.8M513.75 1049.16h3.8M530.54 1009V1061.6M528.64 1009h3.8M528.64 1061.6h3.8M580.23 1012.91V1061.96M578.33 1012.91h3.8M578.33 1061.96h3.8M644.81 962.44V1022.15M642.91 962.44h3.8M642.91 1022.15h3.8M654.5 981.99V1043.12M652.6 981.99h3.8M652.6 1043.12h3.8M39.55 951.43V985.55M37.65 951.43h3.8M37.65 985.55h3.8M63.59 955.34V986.61M61.69 955.34h3.8M61.69 986.61h3.8M128.17 944.32V973.46M126.27 944.32h3.8M126.27 973.46h3.8M192.75 1015.04V1079.73M190.85 1015.04h3.8M190.85 1079.73h3.8M207.64 1044.36V1095.9M205.74 1044.36h3.8M205.74 1095.9h3.8M257.33 1092.7V1147.79M255.43 1092.7h3.8M255.43 1147.79h3.8M321.91 1021.44V1075.46M320.01 1021.44h3.8M320.01 1075.46h3.8M331.24 999.05V1045.25M329.34 999.05h3.8M329.34 1045.25h3.8M362.45 905.23V919.44M360.55 905.23h3.8M360.55 919.44h3.8M386.49 950.89V1034.41M384.59 950.89h3.8M384.59 1034.41h3.8M451.07 1101.05V1140.14M449.17 1101.05h3.8M449.17 1140.14h3.8M515.65 980.21V1016.47M513.75 980.21h3.8M513.75 1016.47h3.8M530.54 991.59V1032.81M528.64 991.59h3.8M528.64 1032.81h3.8M580.23 1011.13V1053.78M578.33 1011.13h3.8M578.33 1053.78h3.8M644.81 984.48V1020.02M642.91 984.48h3.8M642.91 1020.02h3.8M654.5 996.56V1036.37M652.6 996.56h3.8M652.6 1036.37h3.8" stroke="#6c6c6c" stroke-width="0.85" fill="none"/>
<polyline points="39.55,981.64 63.59,962.44 128.17,972.04 192.75,1070.84 207.64,1048.81 257.33,1077.95 321.91,1044.9 331.24,1014.69 362.45,925.84 386.49,1012.56 451.07,1120.6 515.65,1025.35 530.54,1035.3 580.23,1037.43 644.81,992.3 654.5,1012.56" fill="none" stroke="#bebebe" stroke-width="2.3" stroke-linejoin="miter"/>
<path d="M39.55 977.64l3.9 6.7h-7.8z" fill="#ff5a52"/>
<path d="M63.59 958.44l3.9 6.7h-7.8z" fill="#f9684f"/>
<path d="M128.17 968.04l3.9 6.7h-7.8z" fill="#ff9a38"/>
<path d="M192.75 1066.84l3.9 6.7h-7.8z" fill="#ffff42"/>
<path d="M207.64 1044.81l3.9 6.7h-7.8z" fill="#d8f23e"/>
<path d="M257.33 1073.95l3.9 6.7h-7.8z" fill="#82f040"/>
<path d="M321.91 1040.9l3.9 6.7h-7.8z" fill="#3ff083"/>
<path d="M331.24 1010.69l3.9 6.7h-7.8z" fill="#33ef8c"/>
<path d="M362.45 921.84l3.9 6.7h-7.8z" fill="#2ff0b2"/>
<path d="M386.49 1008.56l3.9 6.7h-7.8z" fill="#3cf0c4"/>
<path d="M451.07 1116.6l3.9 6.7h-7.8z" fill="#66d2fb"/>
<path d="M515.65 1021.35l3.9 6.7h-7.8z" fill="#d3a2fb"/>
<path d="M530.54 1031.3l3.9 6.7h-7.8z" fill="#f4a0fb"/>
<path d="M580.23 1033.43l3.9 6.7h-7.8z" fill="#fb6fb2"/>
<path d="M644.81 988.3l3.9 6.7h-7.8z" fill="#fb5068"/>
<path d="M654.5 1008.56l3.9 6.7h-7.8z" fill="#fb5064"/>
<polyline points="39.55,968.49 63.59,970.97 128.17,958.89 192.75,1047.39 207.64,1070.13 257.33,1120.24 321.91,1048.45 331.24,1022.15 362.45,912.33 386.49,992.65 451.07,1120.6 515.65,998.34 530.54,1012.2 580.23,1032.46 644.81,1002.25 654.5,1016.47" fill="none" stroke="#bebebe" stroke-width="2.3" stroke-linejoin="miter" stroke-dasharray="2.3 2.2"/>
<path d="M39.55 964.49l3.9 6.7h-7.8z" fill="#ff5a52"/>
<path d="M63.59 966.97l3.9 6.7h-7.8z" fill="#f9684f"/>
<path d="M128.17 954.89l3.9 6.7h-7.8z" fill="#ff9a38"/>
<path d="M192.75 1043.39l3.9 6.7h-7.8z" fill="#ffff42"/>
<path d="M207.64 1066.13l3.9 6.7h-7.8z" fill="#d8f23e"/>
<path d="M257.33 1116.24l3.9 6.7h-7.8z" fill="#82f040"/>
<path d="M321.91 1044.45l3.9 6.7h-7.8z" fill="#3ff083"/>
<path d="M331.24 1018.15l3.9 6.7h-7.8z" fill="#33ef8c"/>
<path d="M362.45 908.33l3.9 6.7h-7.8z" fill="#2ff0b2"/>
<path d="M386.49 988.65l3.9 6.7h-7.8z" fill="#3cf0c4"/>
<path d="M451.07 1116.6l3.9 6.7h-7.8z" fill="#66d2fb"/>
<path d="M515.65 994.34l3.9 6.7h-7.8z" fill="#d3a2fb"/>
<path d="M530.54 1008.2l3.9 6.7h-7.8z" fill="#f4a0fb"/>
<path d="M580.23 1028.46l3.9 6.7h-7.8z" fill="#fb6fb2"/>
<path d="M644.81 998.25l3.9 6.7h-7.8z" fill="#fb5068"/>
<path d="M654.5 1012.47l3.9 6.7h-7.8z" fill="#fb5064"/>
<text x="354" y="882.8" font-size="11.6" font-weight="bold" text-anchor="middle" fill="#111">CVD Enchroma</text>
<text x="354.2" y="1267.9" font-size="11.55" text-anchor="middle" fill="#262626">Hue angle</text>
<text transform="translate(10.3 1064.8) rotate(-90)" font-size="11.55" text-anchor="middle" fill="#262626">Naming error score</text>
<text x="1.3" y="892" font-size="18.5" font-weight="bold" fill="#000">c</text>
</g>
</svg>
</body></html>
